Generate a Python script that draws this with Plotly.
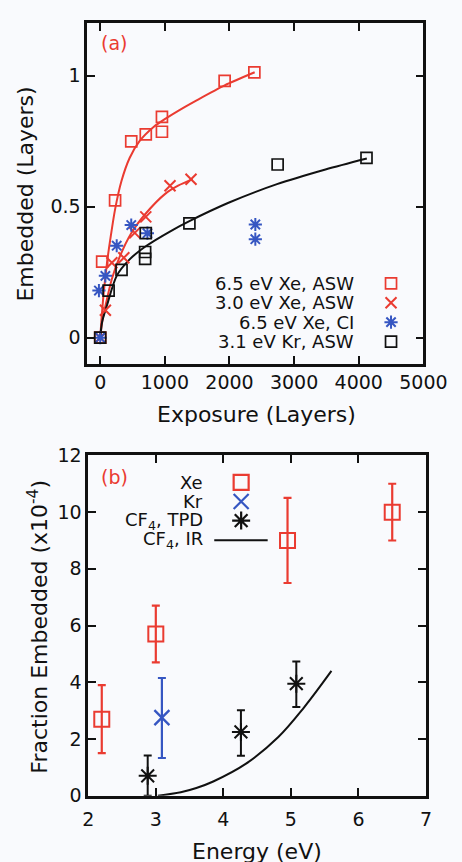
import plotly.graph_objects as go

# ---------------- panel (a): embedded amount vs exposure ----------------
xe65_exp = [0, 30, 230, 480, 705, 955, 955, 1925, 2385]
xe65_emb = [0, 0.29, 0.524, 0.749, 0.776, 0.843, 0.786, 0.98, 1.013]

xe30_exp = [0, 80, 180, 365, 535, 705, 1080, 1405]
xe30_emb = [0, 0.105, 0.286, 0.305, 0.40, 0.461, 0.58, 0.605]

xeci_exp = [0, -20, 80, 255, 480, 730, 2400, 2400]
xeci_emb = [0, 0.18, 0.236, 0.351, 0.43, 0.399, 0.432, 0.376]

kr_exp = [0, 130, 330, 695, 695, 705, 1380, 2745, 4120]
kr_emb = [0, 0.18, 0.259, 0.327, 0.301, 0.399, 0.436, 0.661, 0.686]

# fitted curves, sampled along the drawn lines
fit_xe65_x = [0, 20, 55, 105, 155, 230, 330, 455, 605, 830, 1005, 1305, 1485, 1925, 2390]
fit_xe65_y = [0, 0.07, 0.174, 0.286, 0.374, 0.49, 0.599, 0.686, 0.749, 0.805, 0.835, 0.88, 0.905, 0.963, 1.013]
fit_xe30_x = [0, 30, 80, 180, 305, 480, 705, 1005, 1205, 1430]
fit_xe30_y = [0, 0.06, 0.12, 0.224, 0.311, 0.399, 0.474, 0.549, 0.58, 0.605]
fit_kr_x = [0, 30, 105, 255, 455, 705, 1105, 1380, 1985, 2735, 3485, 4125]
fit_kr_y = [0, 0.061, 0.124, 0.236, 0.299, 0.349, 0.409, 0.445, 0.515, 0.586, 0.642, 0.684]

a_xticks = [0, 1000, 2000, 3000, 4000, 5000]
a_yticks = [0, 0.5, 1]
a_yticktext = ["0", "0.5", "1"]

legend_a_labels = ["6.5 eV Xe, ASW", "3.0 eV Xe, ASW", "6.5 eV Xe, CI", "3.1 eV Kr, ASW"]

# ---------------- panel (b): fraction embedded vs energy ----------------
xe_energy = [2.2, 3.0, 4.95, 6.5]
xe_frac = [2.7, 5.7, 9.0, 10.0]
xe_err_hi = [1.2, 1.0, 1.5, 1.0]
xe_err_lo = [1.2, 1.0, 1.5, 1.0]

kr_energy = [3.09]
kr_frac = [2.75]
kr_err_hi = [1.4]
kr_err_lo = [1.42]

tpd_energy = [2.88, 4.26, 5.08]
tpd_frac = [0.7, 2.25, 3.95]
tpd_err_hi = [0.72, 0.76, 0.78]
tpd_err_lo = [0.7, 0.84, 0.82]

ir_energy = [3.03, 3.37, 3.6, 3.85, 4.33, 4.81, 5.19, 5.6]
ir_frac = [0.0, 0.12, 0.27, 0.5, 1.12, 2.06, 3.1, 4.4]

b_xticks = [2, 3, 4, 5, 6, 7]
b_yticks = [0, 2, 4, 6, 8, 10, 12]

legend_b_labels = ["Xe", "Kr", "CF<sub>4</sub>, TPD", "CF<sub>4</sub>, IR"]

# ---------------- styling ----------------
W, H = 462, 862
ML, MR, MT, MB = 87, 26, 13, 66
RED = "#ea3b31"
BLUE = "#3656c2"
BLACK = "#111111"
BG = "#f9fafd"
FONT = "DejaVu Sans"

pw = W - ML - MR
ph = H - MT - MB


def px_x(p):
    """page pixel column -> paper x"""
    return (p - ML) / pw


def px_y(p):
    """page pixel row -> paper y"""
    return (H - MB - p) / ph


fig = go.Figure()

# panel (a) traces
for fx, fy, col in [(fit_xe65_x, fit_xe65_y, RED), (fit_xe30_x, fit_xe30_y, RED), (fit_kr_x, fit_kr_y, BLACK)]:
    fig.add_trace(go.Scatter(x=fx, y=fy, mode="lines",
                             line=dict(color=col, width=2, shape="spline", smoothing=0.8),
                             xaxis="x", yaxis="y", showlegend=False, hoverinfo="skip"))
fig.add_trace(go.Scatter(x=xe65_exp, y=xe65_emb, mode="markers", name=legend_a_labels[0],
                         marker=dict(symbol="square-open", size=11, color=RED, line=dict(width=1.7)),
                         xaxis="x", yaxis="y", showlegend=False, cliponaxis=False))
fig.add_trace(go.Scatter(x=xe30_exp, y=xe30_emb, mode="markers", name=legend_a_labels[1],
                         marker=dict(symbol="x-thin-open", size=11, color=RED, line=dict(width=2, color=RED)),
                         xaxis="x", yaxis="y", showlegend=False, cliponaxis=False))
fig.add_trace(go.Scatter(x=xeci_exp, y=xeci_emb, mode="markers", name=legend_a_labels[2],
                         marker=dict(symbol="asterisk-open", size=11, color=BLUE, line=dict(width=2, color=BLUE)),
                         xaxis="x", yaxis="y", showlegend=False, cliponaxis=False))
fig.add_trace(go.Scatter(x=kr_exp, y=kr_emb, mode="markers", name=legend_a_labels[3],
                         marker=dict(symbol="square-open", size=11, color=BLACK, line=dict(width=1.7)),
                         xaxis="x", yaxis="y", showlegend=False, cliponaxis=False))

# panel (b) traces
fig.add_trace(go.Scatter(x=ir_energy, y=ir_frac, mode="lines", name="CF4, IR",
                         line=dict(color=BLACK, width=2, shape="spline", smoothing=1.0),
                         xaxis="x2", yaxis="y2", showlegend=False))
fig.add_trace(go.Scatter(x=xe_energy, y=xe_frac, mode="markers", name="Xe",
                         marker=dict(symbol="square-open", size=15, color=RED, line=dict(width=2)),
                         error_y=dict(type="data", array=xe_err_hi, arrayminus=xe_err_lo, color=RED,
                                      thickness=2.2, width=4),
                         xaxis="x2", yaxis="y2", showlegend=False, cliponaxis=False))
fig.add_trace(go.Scatter(x=kr_energy, y=kr_frac, mode="markers", name="Kr",
                         marker=dict(symbol="x-thin-open", size=15, color=BLUE, line=dict(width=2.4, color=BLUE)),
                         error_y=dict(type="data", array=kr_err_hi, arrayminus=kr_err_lo, color=BLUE,
                                      thickness=2.2, width=4),
                         xaxis="x2", yaxis="y2", showlegend=False, cliponaxis=False))
fig.add_trace(go.Scatter(x=tpd_energy, y=tpd_frac, mode="markers", name="CF4, TPD",
                         marker=dict(symbol="asterisk-open", size=15, color=BLACK, line=dict(width=2, color=BLACK)),
                         error_y=dict(type="data", array=tpd_err_hi, arrayminus=tpd_err_lo, color=BLACK,
                                      thickness=2, width=4),
                         xaxis="x2", yaxis="y2", showlegend=False, cliponaxis=False))

# legend keys, drawn on a pixel-unit overlay axis pair
key_a_x = 400
key_a_y = [276.7, 296.3, 316.0, 335.7]
key_a_symbols = ["square-open", "x-thin-open", "asterisk-open", "square-open"]
key_a_colors = [RED, RED, BLUE, BLACK]
for yy, sym, col in zip(key_a_y, key_a_symbols, key_a_colors):
    fig.add_trace(go.Scatter(x=[key_a_x], y=[yy], mode="markers",
                             marker=dict(symbol=sym, size=11, color=col,
                                         line=dict(width=2 if sym != "square-open" else 1.7, color=col)),
                             xaxis="x3", yaxis="y3", showlegend=False, cliponaxis=False, hoverinfo="skip"))

key_b_x = 245.7
key_b_y = [478.3, 497.6, 517.0, 537.0]
key_b_symbols = ["square-open", "x-thin-open", "asterisk-open"]
key_b_colors = [RED, BLUE, BLACK]
for yy, sym, col in zip(key_b_y[:3], key_b_symbols, key_b_colors):
    fig.add_trace(go.Scatter(x=[key_b_x], y=[yy], mode="markers",
                             marker=dict(symbol=sym, size=15, color=col, line=dict(width=2.2, color=col)),
                             xaxis="x3", yaxis="y3", showlegend=False, cliponaxis=False, hoverinfo="skip"))
fig.add_trace(go.Scatter(x=[218, 273], y=[key_b_y[3], key_b_y[3]], mode="lines",
                         line=dict(color=BLACK, width=2),
                         xaxis="x3", yaxis="y3", showlegend=False, cliponaxis=False, hoverinfo="skip"))


def note(px, py, text, size, color=BLACK, xanchor="center", angle=0):
    return dict(x=px_x(px), y=px_y(py), xref="paper", yref="paper", text=text, showarrow=False,
                xanchor=xanchor, yanchor="middle", textangle=angle,
                font=dict(family=FONT, size=size, color=color))


annotations = []
for yy, txt in zip(key_a_y, legend_a_labels):
    annotations.append(note(363.5, yy, txt, 18, xanchor="right"))
for yy, txt in zip(key_b_y, legend_b_labels):
    annotations.append(note(208.5, yy, txt, 18, xanchor="right"))

# panel tags
annotations.append(note(115, 33, "(a)", 19, color=RED))
annotations.append(note(115, 473, "(b)", 19, color=RED))

# axis titles
annotations.append(note(261.5, 410, "Exposure (Layers)", 22))
annotations.append(note(261.5, 852, "Energy (eV)", 22))
annotations.append(note(24, 186, "Embedded (Layers)", 22, angle=-90))
annotations.append(note(37, 624, "Fraction Embedded (x10<sup>-4</sup>)", 22, angle=-90))

axis_common = dict(showline=True, linecolor=BLACK, linewidth=2.6, mirror="ticks", ticks="inside",
                   ticklen=8, tickwidth=2, tickcolor=BLACK, showgrid=False, zeroline=False,
                   tickfont=dict(family=FONT, size=19, color=BLACK))

fig.update_layout(
    width=W, height=H,
    margin=dict(l=ML, r=MR, t=MT, b=MB),
    paper_bgcolor=BG, plot_bgcolor="rgba(0,0,0,0)",
    showlegend=False,
    xaxis=dict(domain=[px_x(87.3), px_x(433.3)], range=[-200, 5000], anchor="y",
               tickvals=a_xticks, **axis_common),
    yaxis=dict(domain=[px_y(358.3), px_y(13.3)], range=[-0.1, 1.2], anchor="x",
               tickvals=a_yticks, ticktext=a_yticktext, **axis_common),
    xaxis2=dict(domain=[px_x(88.3), px_x(436)], range=[2, 7], anchor="y2",
                tickvals=b_xticks, ticklabelstandoff=5, **axis_common),
    yaxis2=dict(domain=[px_y(795.7), px_y(451)], range=[0, 12], anchor="x2",
                tickvals=b_yticks, **axis_common),
    xaxis3=dict(domain=[0, 1], range=[ML, W - MR], anchor="y3", visible=False, fixedrange=True),
    yaxis3=dict(domain=[0, 1], range=[H - MB, MT], anchor="x3", visible=False, fixedrange=True),
    annotations=annotations,
)

fig.write_html("out.html")
